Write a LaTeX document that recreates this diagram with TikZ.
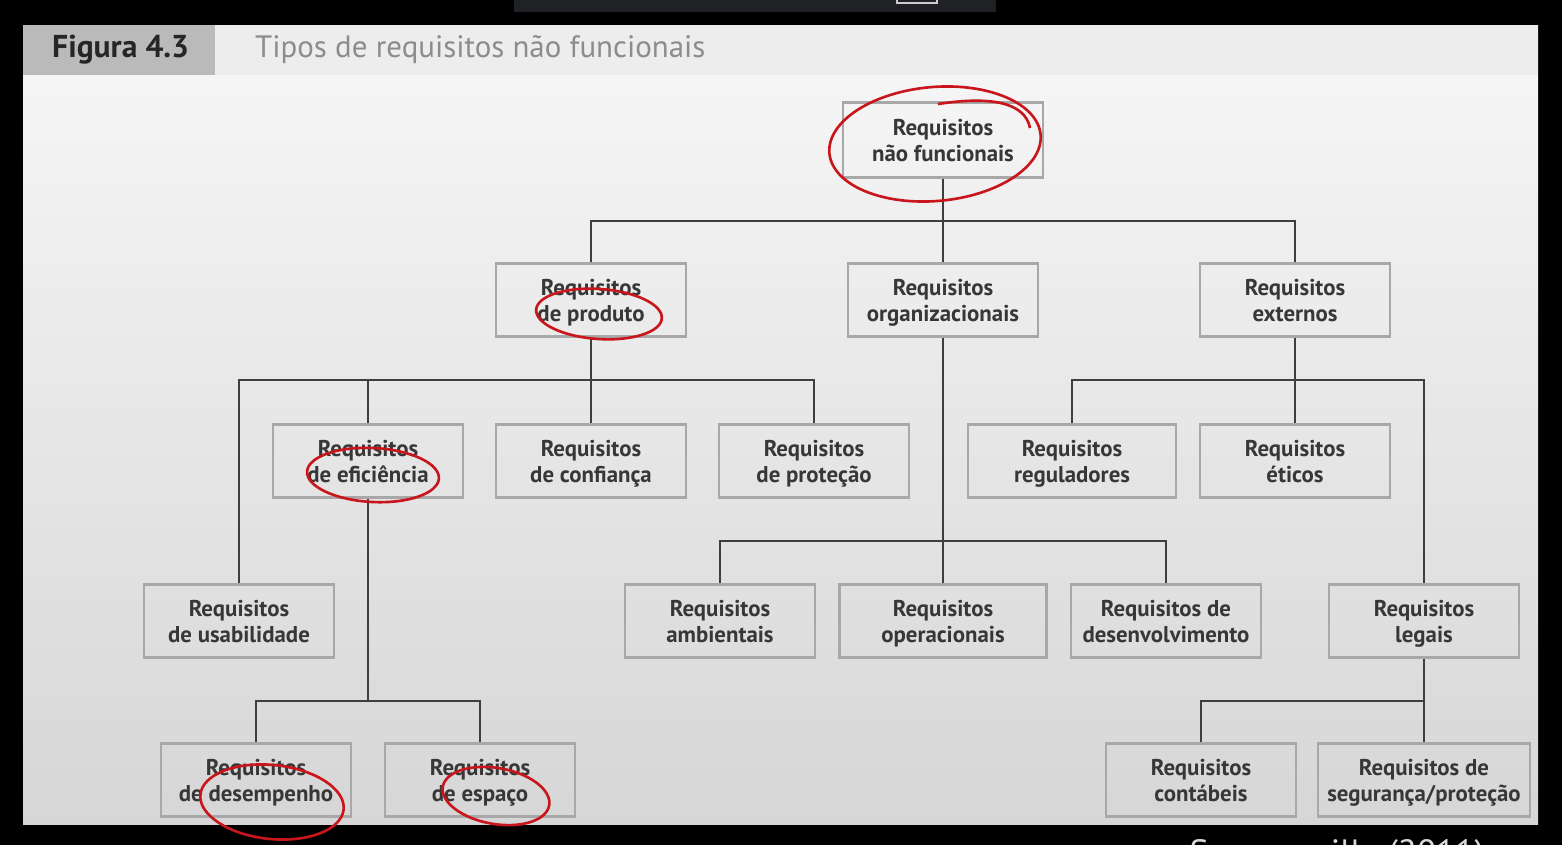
\documentclass[tikz,border=0pt]{standalone}
\usepackage{fontspec}
\usepackage{xcolor}
\setmainfont{PT Sans}
\definecolor{boxline}{RGB}{168,168,168}
\definecolor{linkline}{RGB}{62,62,62}
\definecolor{boxtext}{RGB}{55,55,55}
\definecolor{penred}{RGB}{200,22,28}
\definecolor{titlegray}{RGB}{140,140,140}
\definecolor{labelgray}{RGB}{186,186,186}
\definecolor{barcolor}{RGB}{32,33,37}

\begin{document}
\begin{tikzpicture}[x=0.02cm, y=-0.02cm,
    req/.style={draw=boxline, line width=1.4pt, minimum width=3.8cm, minimum height=1.46cm,
                inner ysep=0pt, text height=32.4pt, text depth=8.4pt,
                align=center, text=boxtext, font=\bfseries\fontsize{13}{14.3}\selectfont},
    link/.style={draw=linkline, line width=1.4pt},
    pen/.style={draw=penred, line width=1.5pt}]
        \useasboundingbox (0,0) rectangle (1562,845);
        % screen and slide
        \fill[black] (0,0) rectangle (1562,845);
        \fill[barcolor] (514,0) rectangle (996,12);
        \draw[white!80!black, line width=0.6pt] (897,-2) rectangle (937,3);
        \shade[top color=white!97!black, bottom color=white!84!black] (23,25) rectangle (1538,824);
        \fill[white!93!black] (215,25) rectangle (1538,75);
        \fill[labelgray] (23,25) rectangle (215,75);
        \node[anchor=west, font=\bfseries\fontsize{18}{20}\selectfont, text=black!85] (fig) at (46,50) {Figura 4.3};
        \node[anchor=west, font=\fontsize{17.6}{21}\selectfont, text=titlegray] (title) at (249,50) {Tipos de requisitos não funcionais};

        % boxes
        \node[req, minimum width=4cm, minimum height=1.5cm] (root) at (943,140) {Requisitos\\não funcionais};
        \node[req] (prod) at (591,300) {Requisitos\\de produto};
        \node[req] (org) at (943,300) {Requisitos\\organizacionais};
        \node[req] (ext) at (1295,300) {Requisitos\\externos};
        \node[req] (efic) at (368,461) {Requisitos\\de eficiência};
        \node[req] (conf) at (591,461) {Requisitos\\de confiança};
        \node[req] (prot) at (814,461) {Requisitos\\de proteção};
        \node[req, minimum width=4.16cm] (regu) at (1072,461) {Requisitos\\reguladores};
        \node[req] (etic) at (1295,461) {Requisitos\\éticos};
        \node[req] (usab) at (239,621) {Requisitos\\de usabilidade};
        \node[req] (amb) at (720,621) {Requisitos\\ambientais};
        \node[req, minimum width=4.14cm] (oper) at (943,621) {Requisitos\\operacionais};
        \node[req] (desv) at (1166,621) {Requisitos de\\desenvolvimento};
        \node[req] (legal) at (1424,621) {Requisitos\\legais};
        \node[req] (desp) at (256,780) {Requisitos\\de desempenho};
        \node[req] (espa) at (480,780) {Requisitos\\de espaço};
        \node[req] (cont) at (1201,780) {Requisitos\\contábeis};
        \node[req, minimum width=4.24cm] (segu) at (1424,780) {Requisitos de\\segurança/proteção};

        % connectors
        \coordinate (b0) at (943,221);
        \coordinate (bP) at (591,380);
        \coordinate (bE) at (1295,380);
        \coordinate (bO) at (943,541);
        \coordinate (bF) at (368,701);
        \coordinate (bL) at (1424,701);
        \draw[link] (root.south) -- (org.north);
        \draw[link] (prod.north) |- (b0);
        \draw[link] (ext.north) |- (b0);
        \draw[link] (prod.south) -- (conf.north);
        \draw[link] (usab.north) |- (bP);
        \draw[link] (prot.north) |- (bP);
        \draw[link] (efic.north) -- (efic.north |- bP);
        \draw[link] (ext.south) -- (etic.north);
        \draw[link] (regu.north) |- (bE);
        \draw[link] (legal.north) |- (bE);
        \draw[link] (org.south) -- (oper.north);
        \draw[link] (amb.north) |- (bO);
        \draw[link] (desv.north) |- (bO);
        \draw[link] (efic.south) -- (bF);
        \draw[link] (desp.north) |- (bF);
        \draw[link] (espa.north) |- (bF);
        \draw[link] (legal.south) -- (segu.north);
        \draw[link] (cont.north) |- (bL);

        % red marks
        \draw[pen] (935,144) ellipse [x radius=106, y radius=57, rotate=5];
        \draw[pen] (938,104) .. controls (990,96) and (1025,102) .. (1030,128);
        \draw[pen] (599,314) ellipse [x radius=63, y radius=25, rotate=-4];
        \draw[pen] (373,475) ellipse [x radius=66, y radius=27, rotate=-3];
        \draw[pen] (272,802) ellipse [x radius=72, y radius=37, rotate=-6];
        \draw[pen] (496,796) ellipse [x radius=54, y radius=28, rotate=-10];

        % source, cut by the frame
        \begin{scope}
            \clip (0,0) rectangle (1562,845);
            \node[font=\fontsize{20}{24}\selectfont, text=white!85!black] (src) at (1337,856) {Sommerville (2011)};
        \end{scope}
    \end{tikzpicture}
\end{document}
